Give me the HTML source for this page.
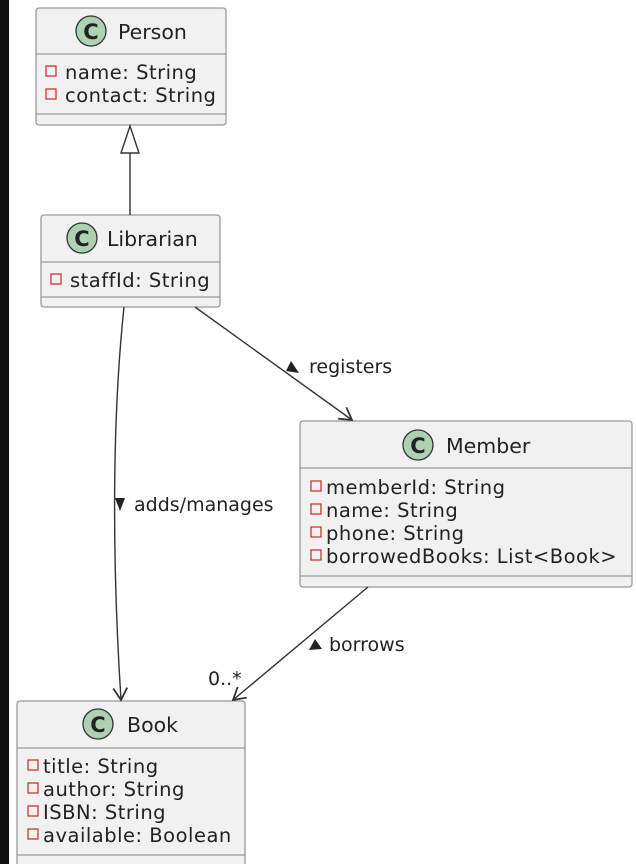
<!DOCTYPE html>
<html><head><meta charset="utf-8"><style>
html,body{margin:0;padding:0;background:#fff;}
svg{display:block;}
text{font-family:"DejaVu Sans","Liberation Sans",sans-serif;fill:#222;}
</style></head><body>
<svg width="636" height="864" viewBox="0 0 636 864" xmlns="http://www.w3.org/2000/svg">
<rect x="0" y="0" width="9" height="864" fill="#111"/>
<defs>
<marker id="ar" markerWidth="16" markerHeight="16" refX="13" refY="8" orient="auto" markerUnits="userSpaceOnUse">
<path d="M1,1 L13,8 L1,15" fill="none" stroke="#333" stroke-width="1.8"/>
</marker>
</defs>
<g stroke="#999" stroke-width="1.3" fill="#f1f1f1">
<rect x="36" y="8" width="190" height="117" rx="3"/>
<rect x="41" y="215" width="179" height="92" rx="3"/>
<rect x="300" y="421" width="332" height="166" rx="3"/>
<rect x="17" y="701" width="228" height="175" rx="3"/>
</g>
<g stroke="#999" stroke-width="1.2">
<line x1="36" y1="54" x2="226" y2="54"/><line x1="36" y1="114" x2="226" y2="114"/>
<line x1="41" y1="262" x2="220" y2="262"/><line x1="41" y1="297" x2="220" y2="297"/>
<line x1="300" y1="468" x2="632" y2="468"/><line x1="300" y1="576" x2="632" y2="576"/>
<line x1="17" y1="748" x2="245" y2="748"/><line x1="17" y1="855" x2="245" y2="855"/>
</g>
<g fill="#add1b2" stroke="#333" stroke-width="1.3">
<circle cx="91" cy="31" r="15"/><circle cx="82" cy="238" r="15"/>
<circle cx="418" cy="445" r="15"/><circle cx="98" cy="724" r="15"/>
</g>
<g font-size="21" font-weight="bold" text-anchor="middle">
<text x="91" y="39">C</text><text x="82" y="246">C</text><text x="418" y="453">C</text><text x="98" y="732">C</text>
</g>
<g font-size="20.5">
<text x="118" y="39">Person</text>
<text x="107" y="246">Librarian</text>
<text x="446" y="453">Member</text>
<text x="127" y="732">Book</text>
</g>
<g fill="none" stroke="#c33" stroke-width="1.3">
<rect x="46" y="66" width="10" height="10"/><rect x="46" y="89" width="10" height="10"/>
<rect x="51" y="274" width="10" height="10"/>
<rect x="311" y="481" width="10" height="10"/><rect x="311" y="504" width="10" height="10"/>
<rect x="311" y="527" width="10" height="10"/><rect x="311" y="550" width="10" height="10"/>
<rect x="28" y="760" width="10" height="10"/><rect x="28" y="783" width="10" height="10"/>
<rect x="28" y="806" width="10" height="10"/><rect x="28" y="829" width="10" height="10"/>
</g>
<g font-size="19.5" letter-spacing="0.5">
<text x="65" y="79">name: String</text>
<text x="65" y="102">contact: String</text>
<text x="70" y="287">staffId: String</text>
<text x="326" y="494">memberId: String</text>
<text x="326" y="517">name: String</text>
<text x="326" y="540">phone: String</text>
<text x="326" y="563">borrowedBooks: List&lt;Book&gt;</text>
<text x="43" y="773">title: String</text>
<text x="43" y="796">author: String</text>
<text x="43" y="819">ISBN: String</text>
<text x="43" y="842">available: Boolean</text>
</g>
<g fill="none" stroke="#333" stroke-width="1.4">
<line x1="130" y1="153" x2="130" y2="215"/>
<path d="M130,126 L121,153 L139,153 Z" fill="#fff"/>
<path d="M124,307 C112,420 112,560 121,700" marker-end="url(#ar)"/>
<line x1="195" y1="307" x2="352" y2="420" marker-end="url(#ar)"/>
<line x1="368" y1="587" x2="233" y2="700" marker-end="url(#ar)"/>
</g>
<g font-size="19">
<path d="M115,498 L125,498 L120,511 Z" fill="#222"/>
<text x="134" y="511">adds/manages</text>
<path d="M286,371 L299,373 L291,361 Z" fill="#222"/>
<text x="309" y="373">registers</text>
<path d="M309,650 L322,649 L315,639 Z" fill="#222"/>
<text x="329" y="651">borrows</text>
<text x="208" y="685">0..*</text>
</g>
</svg>
</body></html>
